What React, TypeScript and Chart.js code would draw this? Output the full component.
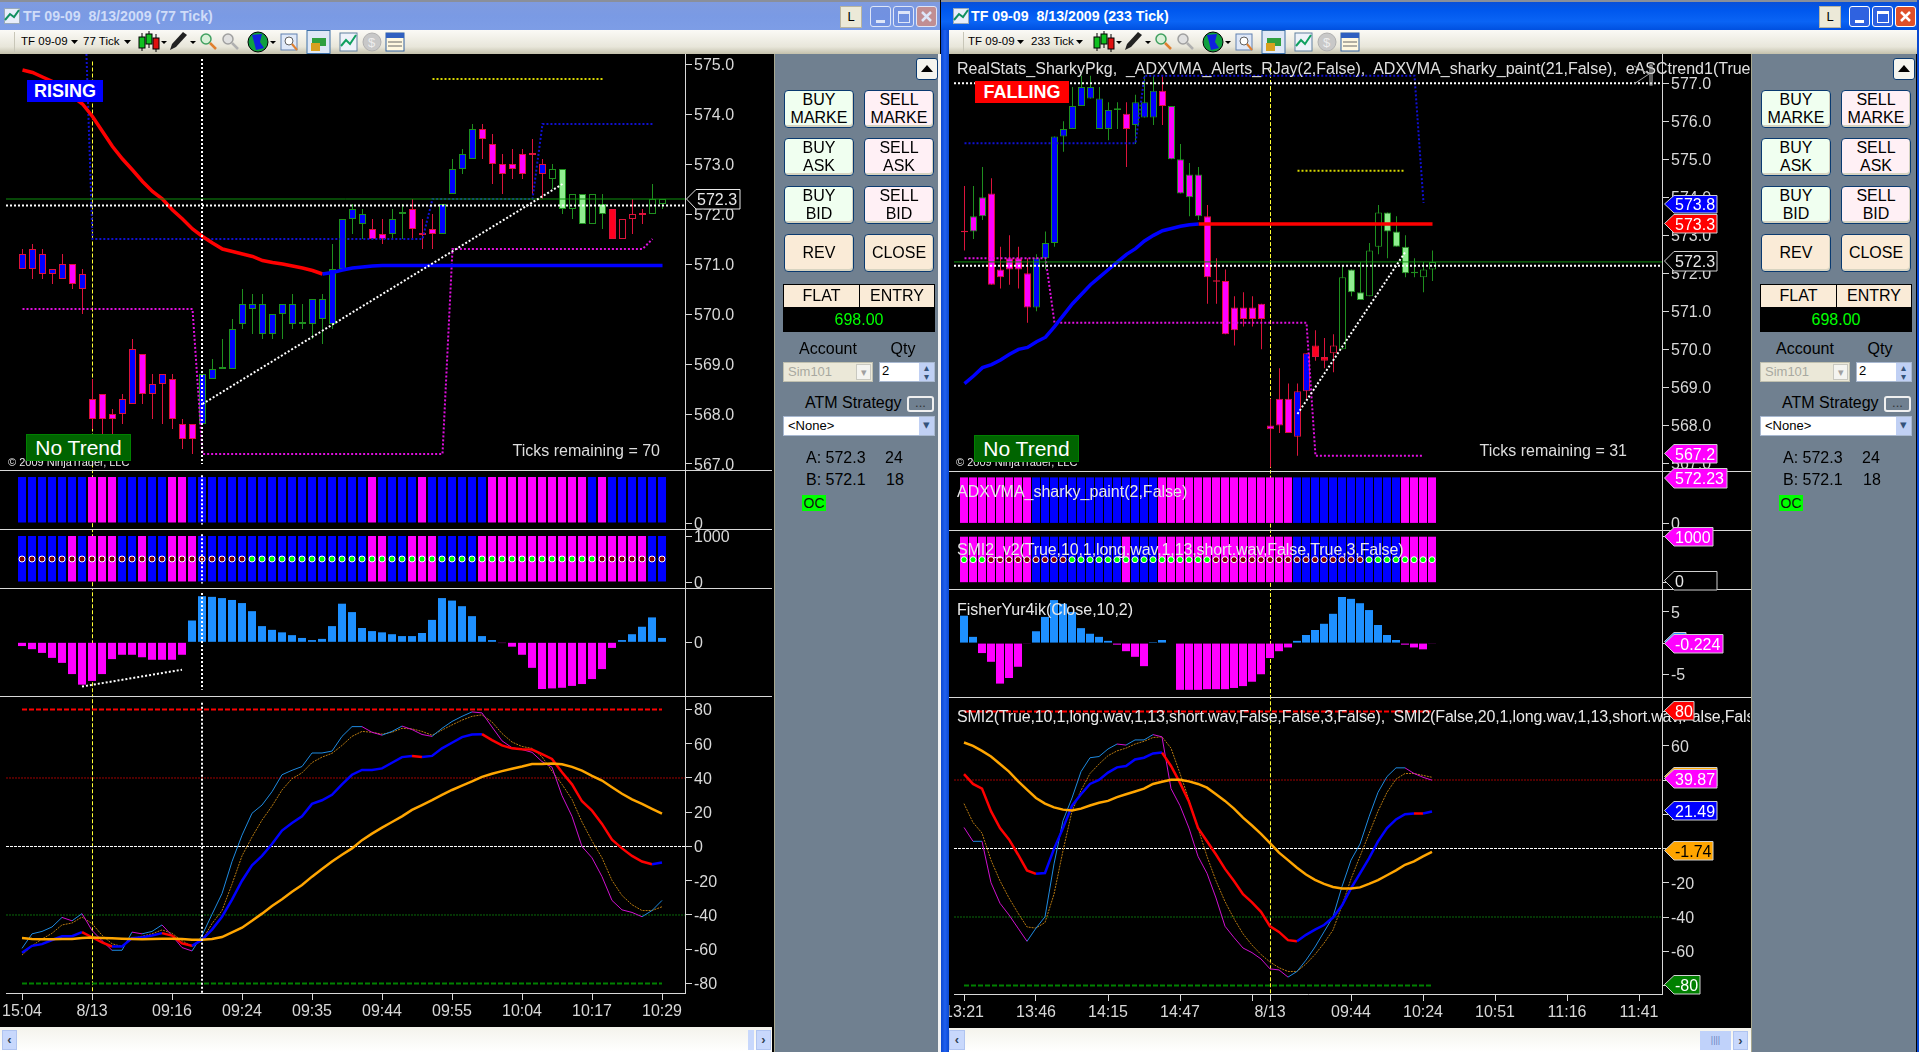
import React, { useEffect, useRef } from 'react';
import { Chart, registerables } from 'chart.js';
Chart.register(...registerables);

// ---------- left window (77 tick) data ----------
const leftXTicks = [0, 7, 15, 22, 29, 36, 43, 50, 57, 64];
const leftXLabels = ['15:04', '8/13', '09:16', '09:24', '09:35', '09:44', '09:55', '10:04', '10:17', '10:29'];
const leftOpen = [571.2,571.3,571.2,570.9,571.0,571.0,570.8,568.3,568.4,568.0,568.3,569.3,569.2,568.6,568.8,568.7,567.8,567.8,567.8,568.7,568.9,568.9,569.8,570.1,569.6,569.6,570.0,569.8,569.8,569.8,569.9,569.8,570.9,571.9,571.8,571.7,571.6,571.6,572.0,572.1,571.6,571.7,571.6,572.4,572.9,573.1,573.7,573.4,573.0,573.0,573.2,573.2,573.0,572.7,572.1,572.1,571.8,571.8,572.0,572.1,571.9,572.0,572.0,572.0,572.2];
const leftClose = [570.9,570.9,570.8,570.8,570.7,570.6,570.5,567.9,567.9,567.9,568.0,568.2,568.4,568.4,568.6,567.9,567.5,567.5,568.8,568.9,568.9,569.7,570.2,570.2,570.2,570.0,570.2,570.2,569.8,570.3,570.3,570.9,571.9,572.1,572.0,571.5,571.5,571.9,572.0,571.7,571.58,571.6,572.2,572.9,573.2,573.7,573.5,573.0,572.8,572.9,572.8,573.18,572.8,572.9,572.9,572.4,572.4,572.4,572.2,571.5,571.5,571.9,571.98,572.3,572.3];
const leftHigh = [571.3,571.4,571.3,570.9,571.2,571.0,570.9,568.7,568.4,568.1,568.4,569.5,569.2,568.8,568.8,568.8,567.9,567.8,568.8,569.1,569.5,569.9,570.5,570.4,570.4,570.0,570.2,570.4,570.2,570.3,570.4,571.4,571.9,572.2,572.1,571.9,571.9,572.1,572.2,572.3,571.9,572.0,572.2,573.1,573.3,573.8,573.8,573.6,573.2,573.3,573.3,573.5,573.1,573.0,572.9,572.4,572.4,572.4,572.4,572.1,571.9,572.3,572.1,572.6,572.3];
const leftLow = [570.9,570.7,570.7,570.6,570.7,570.5,570.0,567.7,567.5,567.5,567.8,568.2,568.2,567.9,567.8,567.7,567.3,567.2,567.8,568.7,568.9,568.9,569.7,569.6,569.5,569.5,569.5,569.7,569.7,569.5,569.4,569.7,570.9,571.6,571.5,571.5,571.4,571.5,571.5,571.5,571.3,571.3,571.6,572.4,572.8,573.1,573.1,572.6,572.4,572.7,572.7,572.4,572.3,572.5,572.0,571.9,571.8,571.8,571.7,571.5,571.5,571.6,571.8,572.0,572.1];
const leftPaint = 'bbbbbmbmmmbbmbbmmmbbbbbbbbbbbbbbbbbmmbbmbmbbbbmmmmmmbklklklrkkkkk';
const leftAdx = [574.88,574.83,574.74,574.65,574.5,574.35,574.2,573.95,573.65,573.35,573.1,572.88,572.65,572.45,572.3,572.08,571.9,571.7,571.55,571.42,571.3,571.25,571.2,571.15,571.07,571.03,571.0,570.96,570.92,570.87,570.8,570.83,570.88,570.92,570.94,570.96,570.97,570.97,570.97,570.97,570.97,570.97,570.97,570.97,570.97,570.97,570.97,570.97,570.97,570.97,570.97,570.97,570.97,570.97,570.97,570.97,570.97,570.97,570.97,570.97,570.97,570.97,570.97,570.97,570.97];
const leftResistance = [[6,577.6],[7,571.5],[40,571.5],[41,572.3],[51,572.3],[52,573.8],[63,573.8]];
const leftSupport = [[0,570.1],[17,570.1],[18,567.2],[42,567.2],[43,571.3],[62,571.3],[63,571.5]];
const leftTarget = [[41,574.7],[58,574.7]];
const leftTrend = [[18,568.2],[54,572.6]];
const leftHistTrend = [[6,-7.1],[16,-4.4]];
const leftLast = 572.3;
const leftMid = 572.17;
const leftStrip1 = 'bbbbbbbmmmbbbbbmmbbbbbbbbbbbbbbbbbbmbbbbmbbbbbbmmmmmmmmmmbmbbbbbb';
const leftStrip2 = 'bbbbbmbmmmbbmbbmmmbbbbbbbbbbbbbbbbbmmbbmmmbbbbmmmmmmmmmmmmmmmmmbb';
const leftDots = 'rrrrrrrrrrrrrrrrrrrrrrrgggggggggggggggggggggggggggggggggggrrrrrrr';
const leftHist = [-0.6,-1.1,-1.7,-2.5,-3.3,-5.1,-6.8,-6.2,-5.1,-2.7,-2.0,-2.0,-2.4,-2.8,-2.8,-2.8,-2.0,3.5,7.4,7.3,7.1,6.8,6.3,5.0,2.6,2.0,1.6,1.15,0.7,0.36,0.55,2.6,6.2,4.85,2.3,1.8,1.6,1.3,1.0,1.0,1.5,3.6,7.1,6.7,5.8,4.2,1.0,0.36,-0.12,-0.7,-2.0,-4.1,-7.5,-7.4,-7.3,-7.0,-6.7,-5.9,-4.3,-0.9,0.36,1.3,2.5,4.0,0.7];
const leftMain = [-62,-58,-57,-54.6,-52.4,-52.4,-50,-53,-56,-58.4,-58.4,-53.5,-53,-52,-50.6,-52,-56.6,-58,-54.4,-48.5,-41,-31,-20,-11,-5.5,1.5,9.3,13.7,17.6,24.9,27,30.2,36.3,41.9,44.7,44.7,45.6,48.9,52.2,52.9,52.2,52.9,57.3,60.6,63.9,65.4,65.6,62.1,59,57.3,56.8,56.6,54,51.1,43.4,36.3,26.4,20.9,13.2,4,-1.1,-5.5,-8.8,-10.4,-9.3];
const leftSignal = [-53.5,-54,-54.2,-54.2,-54,-54,-53.5,-53.2,-53.4,-53.6,-53.8,-54,-54.2,-54,-53.8,-53.8,-54,-54.4,-54.4,-54,-52.9,-50.2,-47.4,-43.4,-39.2,-34.8,-30.8,-26.4,-22.5,-17.6,-13.2,-8.8,-4.8,-1.1,3.7,7.5,11,14.3,17.6,21.4,24.2,27.1,30.2,33,35.5,38,40.7,42.5,44,45.4,46.7,48.2,48.2,48.5,48,46.5,44.3,41.2,38.5,34.6,30.8,27.5,24.9,22,19.2];
const leftFast = [-59.5,-51,-49.6,-47,-41.4,-43.4,-39.2,-49,-55,-60.6,-60.6,-50,-51,-49.6,-45.8,-52,-59,-61,-52,-39.6,-27.5,-8.8,6.6,19.4,24.2,32,41.9,44.5,46.7,54.6,54.6,55.7,64.3,70,70,66.7,65,67.2,70.3,68.3,65.4,64.3,69,73,76,78.6,78,69.8,61.7,57.7,56.6,55,49.6,46.3,29.7,17.6,0,-6.6,-17.6,-31.5,-37,-38.5,-41,-37.4,-31.5];
const leftSlow = [-63.4,-58,-54,-50.7,-45.8,-44.7,-41.2,-45,-51.8,-56.8,-58.4,-54,-52.4,-51,-48.7,-50.7,-55,-58.4,-55,-45,-37.4,-22,-5.5,5.5,15.4,23.6,33,39.6,43,49,52.2,54.4,59,64.3,67.2,66.7,65.6,66.7,69,68.7,67.2,65,68,71,73.8,76,76.9,72.7,66,61,58.4,57.3,52.4,44,36.3,27.5,14.3,3.3,-6.6,-19.8,-28.6,-34,-37.4,-37.4,-35.2];

// ---------- right window (233 tick) data ----------
const rightXTicks = [0, 8, 16, 24, 32, 34, 43, 51, 59, 67, 75];
const rightXLabels = ['13:21', '13:46', '14:15', '14:47', '', '8/13', '09:44', '10:24', '10:51', '11:16', '11:41'];
const rightOpen = [573.1,573.1,573.5,574.1,572.1,572.4,572.4,572.0,571.1,572.4,572.8,575.6,575.8,576.4,576.6,575.8,575.8,576.3,576.2,575.9,576.1,576.1,576.8,575.0,574.1,574.0,573.5,573.5,571.8,571.8,571.1,571.1,571.1,571.2,568.0,568.7,568.7,568.9,569.9,570.1,569.8,570.1,570.0,571.5,571.3,571.4,572.7,573.1,572.7,572.0,572.0,571.9,572.1];
const rightClose = [573.08,573.5,574.0,571.7,571.9,572.1,572.1,571.1,572.4,572.8,575.6,575.8,576.4,576.9,576.9,576.6,576.3,576.32,575.8,576.5,576.5,576.8,576.4,576.4,575.0,574.6,574.6,571.9,571.78,570.4,570.5,570.8,570.8,570.8,567.9,568.0,567.8,567.7,568.9,569.8,569.7,569.9,571.9,572.1,571.5,572.6,573.6,573.6,573.1,572.7,572.02,572.1,572.3];
const rightHigh = [574.3,574.3,574.8,574.5,572.7,573.0,572.7,572.4,572.5,573.1,575.6,576.0,576.9,577.2,577.2,576.9,576.5,576.5,576.5,576.7,577.2,577.2,577.2,576.4,575.4,574.9,574.8,573.8,572.4,572.1,571.4,571.5,571.4,571.2,568.7,569.5,569.1,569.1,569.9,570.5,570.3,570.4,572.2,572.1,572.3,572.8,573.8,573.6,573.5,573.0,572.4,572.3,572.6];
const rightLow = [572.6,572.9,573.4,571.7,571.6,571.7,571.6,570.7,571.0,572.1,572.7,575.2,575.8,576.4,576.6,575.8,575.5,575.8,574.8,575.4,576.1,575.9,575.9,575.0,574.1,573.5,573.4,571.2,571.2,570.4,570.1,570.6,570.6,570.0,566.9,567.8,567.8,567.2,568.7,569.7,569.5,569.4,570.0,571.4,571.3,571.4,572.5,572.4,572.7,571.9,571.9,571.5,571.8];
const rightPaint = 'mmmmmmmmbbbbbbbbbbmbbbmmmmmmmmmmmmmmmbbrrkkllkklllkkk';
const rightAdx = [569.1,569.3,569.52,569.6,569.72,569.87,570.0,570.05,570.2,570.32,570.6,570.9,571.2,571.45,571.7,571.9,572.1,572.3,572.5,572.65,572.85,573.0,573.12,573.18,573.24,573.28,573.3];
const rightAdxFlat = [[26,573.3],[52,573.3]];
const rightResistance = [[0,575.42],[19,575.42],[20,577.2],[50,577.2],[51,573.85]];
const rightSupport = [[0,572.4],[9,572.4],[10,570.7],[38,570.7],[39,567.2],[51,567.2]];
const rightTarget = [[37,574.7],[49,574.7]];
const rightTrend = [[37,568.3],[49,572.57]];
const rightLast = 572.3;
const rightMid = 572.2;
const rightHighLine = 577.0;
const rightStrip1 = 'mmmmmmmmbbbbbbbbbbbbbbmmmmmmmmmmmmmmmbbbbbbbbbbbbmmmm';
const rightStrip2 = 'mmmmmmmmbbbbbbbbbbmbbbmmmmmmmmmmmmmmmbbbbbbbbbbbbmmmm';
const rightDots = 'gggrrrrrrrrrggggggggggggggggrrrrrrrrrrrrrrrrrgggggggg';
const rightHist = [4.4,1.0,-1.6,-3.0,-6.5,-5.6,-3.8,-0.1,1.9,4.2,6.9,6.3,5.0,2.4,1.5,1.0,0.36,-0.25,-1.3,-2.2,-3.7,0.15,0.5,0,-7.5,-7.5,-7.5,-7.4,-7.4,-7.4,-7.2,-6.9,-6.2,-5.0,-2.4,-1.3,-0.7,0.36,1.3,2.1,3.1,4.7,7.4,7.1,6.4,5.3,2.9,1.3,0.5,-0.25,-0.7,-1.0,-0.1];
const rightMain = [43.4,37.7,35,21.8,11.9,5.3,-3.5,-12.8,-14.8,-14.3,-0.2,11.9,25,31.7,37.7,40,44.3,47.4,48.2,52,53,55.5,56,48.2,38.3,27.3,12,4.2,-3.5,-11.9,-19,-26.7,-31.5,-37,-45.4,-48.7,-53.5,-54.2,-50.4,-47.4,-44.7,-40.3,-33.3,-23.3,-14.5,-5.7,4.2,11.9,17,20,20.5,20.4,21.6];
const rightSignal = [61.9,59.9,57,53.7,49.3,44.9,39.4,34.4,29.5,26.2,24,22.7,22.2,23.3,25.1,26.7,27.8,30,31.7,33.3,35,37.7,39,40.1,40.1,39.2,37.7,35.5,31.7,27.8,23.3,18,13.4,8.6,3.1,-2.4,-6.8,-11.2,-15.2,-18.3,-20.7,-22.5,-23.3,-23.3,-22.7,-20.7,-18.5,-15.6,-12.8,-9.5,-7.5,-4.6,-2];
const rightFast = [12.3,4.2,4.2,-20,-32,-38.8,-46.5,-54.2,-46.5,-39.9,-9,16.3,29.5,44.9,53,53.7,58.1,61,60.4,63.4,63.4,66.5,65.2,35,25,11.9,-4.6,-14.5,-28.9,-45.4,-52,-58.1,-60.8,-64.5,-70.3,-70.9,-75.1,-71.8,-65.2,-57.5,-48.7,-39.9,-22.2,-6.8,2.6,18.5,32.8,42,47.1,47.1,43.8,41.6,39.9];
const rightSlow = [26.2,15.2,9,-6.8,-18.9,-28.9,-37.7,-45.8,-46.5,-43.2,-26.7,-1.3,21.8,33.9,43.8,49.3,54.2,57,58.6,61,62.6,64.8,65.2,58.6,43.8,28.4,11.9,-4.6,-18.9,-31,-41,-49.8,-56.4,-61.9,-66.3,-69.6,-71.8,-71.8,-67.4,-61.9,-55.3,-47.6,-33.3,-17.8,-4.6,8.6,21.8,32.8,40.5,43.8,43.8,42.7,41.6];

// ---------- axis tick values ----------
const leftPriceTicks = [575, 574, 573, 572, 571, 570, 569, 568, 567];
const rightPriceTicks = [577, 576, 575, 574, 573, 572, 571, 570, 569, 568, 567];
const oscTicks = [80, 60, 40, 20, 0, -20, -40, -60, -80];
const stripFull = 1000;
const dotLevel = 500;

const FONT = '"Liberation Sans", Arial, sans-serif';
const AXIS = '#d8d8d8';
const BLUE = '#0000ff', MAG = '#ff00ff', RED = '#ff0000', CRIMSON = '#dc143c', GRN = '#1f8f1f';
const PAINT: Record<string, string> = { b: BLUE, m: MAG, l: '#90ee90', r: '#ff0020', k: '#000000' };

type Geo = { left: number; width: number; padL: number; axisW: number; x0: number; step: number; n: number };
const LEFT: Geo = { left: 0, width: 772, padL: 6, axisW: 87, x0: 22, step: 10, n: 65 };
const RIGHT: Geo = { left: 949, width: 802, padL: 5, axisW: 89, x0: 964, step: 9, n: 53 };

const xLim = (g: Geo, shift: number) => {
  const a = g.left + g.padL, b = g.left + g.width - g.axisW;
  return [(a - g.x0 - shift) / g.step, (b - g.x0 - shift) / g.step];
};
const pts = (a: number[]) => a.map((y, x) => ({ x, y }));
const pairs = (a: number[][]) => a.map(([x, y]) => ({ x, y }));
const line = (data: any[], color: string, w: number, dash: number[] | undefined, order: number, extra: any = {}) => ({
  type: 'line', data, borderColor: color, borderWidth: w, borderDash: dash || [], pointRadius: 0, tension: 0, order, ...extra,
});
const sloped = (up: string, down: string) => ({
  borderColor: (c: any) => (c.p0.parsed.y > c.p1.parsed.y ? down : up),
});
const bar = (data: any[], width: number, bg: any, order: number, extra: any = {}) => ({
  type: 'bar', data, barThickness: width, backgroundColor: bg, borderWidth: 0, borderSkipped: false, inflateAmount: 0, grouped: false, order, ...extra,
});

function opts(g: Geo, shift: number, yMin: number, yMax: number, yTicks: number[], yFmt: (v: number) => string, xAxis?: { ticks: number[]; labels: string[]; h: number }) {
  const [xMin, xMax] = xLim(g, shift);
  return {
    responsive: false, animation: false, events: [],
    layout: { autoPadding: false, padding: { left: g.padL, right: 0, top: 0, bottom: 0 } },
    plugins: { legend: { display: false }, tooltip: { enabled: false } },
    scales: {
      x: {
        type: 'linear', min: xMin, max: xMax, offset: false, display: !!xAxis, position: 'bottom',
        grid: { offset: false, drawOnChartArea: false, drawTicks: true, tickLength: 7, color: AXIS },
        border: { color: AXIS, width: 1 },
        afterBuildTicks: (s: any) => { if (xAxis) s.ticks = xAxis.ticks.map((v) => ({ value: v })); },
        afterFit: (s: any) => { if (xAxis) s.height = xAxis.h; s.paddingLeft = 0; s.paddingRight = 0; },
        ticks: {
          autoSkip: false, maxRotation: 0, minRotation: 0, padding: 2, color: AXIS, font: { family: FONT, size: 16 },
          callback: (v: number) => { if (!xAxis) return ''; const i = xAxis.ticks.indexOf(v); return i >= 0 ? xAxis.labels[i] : ''; },
        },
      },
      y: {
        type: 'linear', position: 'right', min: yMin, max: yMax,
        grid: { drawOnChartArea: false, drawTicks: true, tickLength: 7, color: AXIS },
        border: { color: AXIS, width: 1 },
        afterBuildTicks: (s: any) => { s.ticks = yTicks.map((v) => ({ value: v })); },
        afterFit: (s: any) => { s.width = g.axisW; s.paddingTop = 0; s.paddingBottom = 0; },
        ticks: { autoSkip: false, padding: 2, labelOffset: 1.5, color: AXIS, font: { family: FONT, size: 16 }, callback: (v: number) => yFmt(v) },
      },
    },
  };
}

function candles(open: number[], close: number[], high: number[], low: number[], paint: string) {
  const dirColor = open.map((o, i) => (close[i] >= o ? GRN : CRIMSON));
  const wick = bar(high.map((h, i) => ({ x: i, y: [low[i], h] })), 1, dirColor, 30);
  const body = bar(
    open.map((o, i) => {
      const hi = Math.max(o, close[i]), lo = Math.min(o, close[i]);
      return { x: i, y: [lo, Math.max(hi, lo + 0.04)] };
    }),
    7,
    open.map((o, i) => (Math.abs(o - close[i]) < 0.04 ? dirColor[i] : PAINT[paint[i]])),
    29,
    { borderWidth: 1, borderColor: dirColor },
  );
  return [wick, body];
}

type Cfg = { top: number; height: number; g: Geo; datasets: any[]; options: any };

function priceCfg(side: 'L' | 'R'): Cfg {
  const L = side === 'L';
  const g = L ? LEFT : RIGHT;
  const [a, b] = xLim(g, 0.5);
  const span = (y: number) => [{ x: a, y }, { x: b, y }];
  const yMin = L ? 566.88 : 566.8, yMax = L ? 575.2 : 577.77;
  const ds: any[] = L
    ? [
        ...candles(leftOpen, leftClose, leftHigh, leftLow, leftPaint),
        line(pairs(leftResistance), '#1010d0', 2, [2, 2], 12),
        line(pairs(leftSupport), '#e010e0', 2, [2, 2], 12),
        line(pairs(leftTarget), '#d8d800', 2, [2, 2], 12),
        line(pts(leftAdx), BLUE, 3.5, undefined, 10, { segment: sloped(BLUE, RED) }),
        line(span(leftLast), '#0f8f0f', 1, undefined, 9),
        line(span(leftMid), '#ffffff', 2, [2, 2], 8),
        line(pairs(leftTrend), '#ffffff', 2, [2, 2], 7),
        line([{ x: 7, y: 575.05 }, { x: 7, y: yMin }], '#ffff33', 1, [4, 2], 40),
        line([{ x: 17.95, y: 575.1 }, { x: 17.95, y: 567.0 }], '#ffffff', 2, [2, 2], 5),
      ]
    : [
        ...candles(rightOpen, rightClose, rightHigh, rightLow, rightPaint),
        line(pairs(rightResistance), '#1010d0', 2, [2, 2], 12),
        line(pairs(rightSupport), '#e010e0', 2, [2, 2], 12),
        line(pairs(rightTarget), '#d8d800', 2, [2, 2], 12),
        line(pts(rightAdx), BLUE, 3.5, undefined, 10),
        line(pairs(rightAdxFlat), RED, 3.5, undefined, 10),
        line(span(rightLast), '#0f8f0f', 1, undefined, 9),
        line(span(rightMid), '#ffffff', 2, [2, 2], 8),
        line(span(rightHighLine), '#ffffff', 2, [2, 2], 8),
        line(pairs(rightTrend), '#ffffff', 2, [2, 2], 7),
        line([{ x: 34, y: 577.4 }, { x: 34, y: yMin }], '#ffff33', 1, [4, 2], 40),
      ];
  return {
    top: 54, height: L ? 416 : 417, g, datasets: ds,
    options: opts(g, 0.5, yMin, yMax, L ? leftPriceTicks : rightPriceTicks, (v) => v.toFixed(1)),
  };
}

const yellowX = (L: boolean) => (L ? 7.05 : 34.055);

function stripCfg(side: 'L' | 'R', which: 1 | 2): Cfg {
  const L = side === 'L';
  const g = L ? LEFT : RIGHT;
  const code = L ? (which === 1 ? leftStrip1 : leftStrip2) : which === 1 ? rightStrip1 : rightStrip2;
  const ds: any[] = [bar([...code].map((_, x) => ({ x, y: stripFull })), 8, [...code].map((c) => PAINT[c]), 20)];
  if (which === 2) {
    const d = L ? leftDots : rightDots;
    ds.push(line([...d].map((_, x) => ({ x, y: dotLevel })), '#fff', 0, undefined, 10, {
      showLine: false, pointRadius: 3, pointBorderWidth: 1, pointBorderColor: '#ffffff',
      pointBackgroundColor: [...d].map((c) => (c === 'g' ? '#00ff00' : '#800000')),
    }));
  }
  const y0 = L ? 523 : 523.4;
  if (L) ds.push(line([{ x: 18, y: 1040 }, { x: 18, y: -30 }], '#ffffff', 2, [2, 2], 5));
  const vx = yellowX(L);
  ds.push(line([{ x: vx, y: 1300 }, { x: vx, y: -300 }], '#ffff33', 1, [4, 2], 40));
  const top = L ? (which === 1 ? 470 : 529) : which === 1 ? 471 : 530;
  const zero = which === 1 ? y0 : L ? 582 : 582.7;
  const k = 0.046;
  return {
    top, height: 59, g, datasets: ds,
    options: opts(g, 0, -(top + 59 - zero) / k, (zero - top) / k, which === 1 ? [0] : [1000, 0], (v) => String(v)),
  };
}

function histCfg(side: 'L' | 'R'): Cfg {
  const L = side === 'L';
  const g = L ? LEFT : RIGHT;
  const v = L ? leftHist : rightHist;
  const ds: any[] = [bar(pts(v), 8, v.map((y) => (y >= 0 ? '#1e90ff' : MAG)), 20)];
  if (L) {
    ds.push(line(pairs(leftHistTrend), '#ffffff', 2, [2, 2], 7));
    ds.push(line([{ x: 18, y: 7.9 }, { x: 18, y: -7.6 }], '#ffffff', 2, [2, 2], 5));
  }
  const vx = yellowX(L);
  ds.push(line([{ x: vx, y: 9 }, { x: vx, y: -9 }], '#ffff33', 1, [4, 2], 40));
  return {
    top: L ? 588 : 589, height: 108, g, datasets: ds,
    options: opts(g, 0, L ? -8.62 : -8.65, L ? 8.72 : 8.68, L ? [0] : [5, 0, -5], (x) => String(x)),
  };
}

function oscCfg(side: 'L' | 'R'): Cfg {
  const L = side === 'L';
  const g = L ? LEFT : RIGHT;
  const [a, b] = xLim(g, 0);
  const span = (y: number) => [{ x: a, y }, { x: b, y }];
  const last = g.n - 1;
  const vx = yellowX(L);
  const ds: any[] = [
    line([{ x: 0, y: 80 }, { x: last, y: 80 }], RED, 2, [5, 2], 20),
    line([{ x: 0, y: -80 }, { x: last, y: -80 }], '#008000', 2, [5, 2], 20),
    line(span(40), '#a00000', 1, [2, 1], 21),
    line(span(-40), '#0a6a0a', 1, [2, 1], 21),
    line(span(0), '#ffffff', 1, [3, 1], 21),
    line(pts(L ? leftSlow : rightSlow), '#b87a10', 1, [2, 1], 15),
    line(pts(L ? leftFast : rightFast), '#1e8ae0', 1, undefined, 14, { segment: sloped('#1e8ae0', '#d010d0') }),
    line(pts(L ? leftMain : rightMain), BLUE, 2.5, undefined, 12, { segment: sloped(BLUE, RED) }),
    line(pts(L ? leftSignal : rightSignal), '#ffa500', 2.5, undefined, 11),
    line([{ x: vx, y: 100 }, { x: vx, y: -100 }], '#ffff33', 1, [4, 2], 40),
  ];
  if (L) ds.push(line([{ x: 18, y: 84 }, { x: 18, y: -86 }], '#ffffff', 2, [2, 2], 5));
  return {
    top: L ? 696 : 697, height: 331, g, datasets: ds,
    options: opts(g, 0, L ? -85.55 : -84.96, L ? 87.88 : 88.47, oscTicks, (v) => String(v), {
      ticks: L ? leftXTicks : rightXTicks, labels: L ? leftXLabels : rightXLabels, h: 34,
    }),
  };
}

function Panel({ make }: { make: () => Cfg }) {
  const ref = useRef<HTMLCanvasElement>(null);
  const cfg = make();
  useEffect(() => {
    const c = make();
    const chart = new Chart(ref.current as any, { type: 'bar', data: { datasets: c.datasets }, options: c.options } as any);
    return () => chart.destroy();
  }, []);
  return (
    <canvas ref={ref} width={cfg.g.width} height={cfg.height}
      style={{ position: 'absolute', left: cfg.g.left, top: cfg.top, width: cfg.g.width, height: cfg.height, display: 'block' }} />
  );
}

const abs = (l: number, t: number, w: number, h: number, extra: any = {}) => ({ position: 'absolute', left: l, top: t, width: w, height: h, boxSizing: 'border-box', ...extra }) as React.CSSProperties;

function Txt({ x, y, s, size = 16, color = '#000', weight = 'normal', anchor = 'l', spacing = 0 }: any) {
  const tf = anchor === 'c' ? 'translate(-50%,-50%)' : anchor === 'r' ? 'translate(-100%,-50%)' : 'translateY(-50%)';
  return (
    <div style={{ position: 'absolute', left: x, top: y, transform: tf, font: `${weight} ${size}px ${FONT}`, color, whiteSpace: 'pre', lineHeight: 1, letterSpacing: spacing }}>{s}</div>
  );
}

function Flag({ top, bottom, right, x = 1664, text, fill, color = '#fff', stroke = '#d0d0d0' }: any) {
  const w = right - x, h = bottom - top;
  return (
    <svg width={w + 1} height={h + 1} style={{ position: 'absolute', left: x, top }}>
      <polygon points={`0.5,${h / 2} 10,0.5 ${w},0.5 ${w},${h} 10,${h}`} fill={fill} stroke={stroke} strokeWidth={1} />
      <text x={11} y={h / 2 + 6} fill={color} style={{ font: `16px ${FONT}` }}>{text}</text>
    </svg>
  );
}

function Btn({ x, y, w = 70, h = 38, bg, lines }: any) {
  return (
    <div style={abs(x, y, w, h, { background: bg, border: '1px solid #0a3a70', borderRadius: 4, boxShadow: 'inset -1px -2px 0 #d6d3c0', textAlign: 'center', font: `16px/18px ${FONT}`, color: '#000', paddingTop: lines.length === 1 ? 9 : 0, overflow: 'hidden' })}>
      {lines.map((l: string) => <div key={l}>{l}</div>)}
    </div>
  );
}

function SidePanel({ dx, width }: { dx: number; width: number }) {
  const x = (v: number) => v + dx;
  return (
    <div>
      <div style={abs(x(774), 54, width, 998, { background: '#708090', borderLeft: '1px solid #a8a890' })} />
      <div style={abs(x(916), 58, 22, 22, { background: '#f4f4ee', border: '1px solid #0a3a70', borderRadius: 3 })}>
        <svg width="20" height="20"><polygon points="4,13 10,6 16,13" fill="#000" /></svg>
      </div>
      <Btn x={x(784)} y={90} bg="#f0fff0" lines={['BUY', 'MARKE']} />
      <Btn x={x(864)} y={90} bg="#fff0f5" lines={['SELL', 'MARKE']} />
      <Btn x={x(784)} y={138} bg="#f0fff0" lines={['BUY', 'ASK']} />
      <Btn x={x(864)} y={138} bg="#fff0f5" lines={['SELL', 'ASK']} />
      <Btn x={x(784)} y={186} bg="#f0fff0" lines={['BUY', 'BID']} />
      <Btn x={x(864)} y={186} bg="#fff0f5" lines={['SELL', 'BID']} />
      <Btn x={x(784)} y={234} bg="#faebd7" lines={['REV']} />
      <Btn x={x(864)} y={234} bg="#faebd7" lines={['CLOSE']} />
      <div style={abs(x(783), 284, 152, 48, { background: '#000', border: '1px solid #000' })} />
      <div style={abs(x(784), 285, 75, 22, { background: '#faebd7', textAlign: 'center', font: `16px/22px ${FONT}` })}>FLAT</div>
      <div style={abs(x(860), 285, 74, 22, { background: '#faebd7', textAlign: 'center', font: `16px/22px ${FONT}` })}>ENTRY</div>
      <Txt x={x(859)} y={320} s="698.00" color="#00ff00" anchor="c" />
      <Txt x={x(828)} y={349} s="Account" anchor="c" />
      <Txt x={x(903)} y={349} s="Qty" anchor="c" />
      <div style={abs(x(783), 362, 90, 20, { background: '#ebe8d8', border: '1px solid #c0c0b0', font: `13px/18px ${FONT}`, color: '#a8a8a0', paddingLeft: 4 })}>Sim101</div>
      <div style={abs(x(856), 364, 15, 16, { background: '#f4f4f0', border: '1px solid #c8c8c0', font: `11px/14px ${FONT}`, color: '#a0a0a0', textAlign: 'center' })}>▾</div>
      <div style={abs(x(879), 362, 56, 20, { background: '#fff', border: '1px solid #a8b8d0', font: `13px/16px ${FONT}`, paddingLeft: 2 })}>2</div>
      <div style={abs(x(919), 363, 15, 18, { background: '#c0d0f4', font: `10px/9px ${FONT}`, color: '#34527a', textAlign: 'center' })}>▴<br />▾</div>
      <Txt x={x(805)} y={403} s="ATM Strategy" />
      <div style={abs(x(907), 396, 27, 16, { background: '#708090', border: '2px solid #f0f0f0', borderRadius: 3, font: `13px/10px ${FONT}`, textAlign: 'center', color: '#333' })}>...</div>
      <div style={abs(x(783), 416, 152, 20, { background: '#fff', border: '1px solid #a8b8d0', font: `13px/18px ${FONT}`, paddingLeft: 4 })}>{'<None>'}</div>
      <div style={abs(x(919), 417, 15, 18, { background: '#c0d0f4', font: `13px/16px ${FONT}`, color: '#34527a', textAlign: 'center' })}>▾</div>
      <Txt x={x(806)} y={458} s="A: 572.3" />
      <Txt x={x(885)} y={458} s="24" />
      <Txt x={x(806)} y={480} s="B: 572.1" />
      <Txt x={x(886)} y={480} s="18" />
      <div style={abs(x(802), 495, 24, 16, { background: '#00ff00', font: `14px/16px ${FONT}`, textAlign: 'center', color: '#111' })}>OC</div>
    </div>
  );
}

function Icons({ dx }: { dx: number }) {
  return (
    <svg width="280" height="24" style={{ position: 'absolute', left: 136 + dx, top: 30 }}>
      <g>
        <line x1="6" y1="3" x2="6" y2="21" stroke="#000" /><rect x="3" y="7" width="6" height="11" fill="#10c020" stroke="#000" />
        <line x1="13" y1="1" x2="13" y2="18" stroke="#000" /><rect x="10" y="4" width="6" height="10" fill="#10c020" stroke="#000" />
        <line x1="20" y1="4" x2="20" y2="22" stroke="#000" /><rect x="17" y="8" width="6" height="11" fill="#e01010" stroke="#000" />
        <polygon points="25,11 31,11 28,14" fill="#000" />
      </g>
      <polygon points="34,20 36,14 47,2 51,5 40,17" fill="#222" />
      <polygon points="54,11 60,11 57,14" fill="#000" />
      <circle cx="70" cy="9" r="5" fill="#d8f0d8" stroke="#40a060" strokeWidth="1.5" /><line x1="74" y1="13" x2="80" y2="19" stroke="#e08030" strokeWidth="2.5" />
      <circle cx="92" cy="9" r="5" fill="#e0e0e0" stroke="#a0a0a0" strokeWidth="1.5" /><line x1="96" y1="13" x2="102" y2="19" stroke="#b0b0b0" strokeWidth="2.5" />
      <circle cx="122" cy="12" r="10" fill="#10a040" stroke="#000" /><path d="M116 5 L126 4 L124 12 L128 18 L120 20 L118 12 Z" fill="#1020e0" />
      <polygon points="134,11 140,11 137,14" fill="#000" />
      <rect x="145" y="4" width="16" height="16" fill="#dfe8f8" stroke="#6080b0" /><circle cx="153" cy="11" r="4" fill="#fff" stroke="#606060" /><line x1="156" y1="14" x2="161" y2="20" stroke="#e08030" strokeWidth="2" />
      <rect x="171" y="0.5" width="23" height="23" fill="#dfe8f6" stroke="#3a6ea5" />
      <rect x="176" y="8" width="14" height="8" fill="#30a040" /><rect x="175" y="13" width="9" height="8" fill="#d8a020" />
      <rect x="204" y="3" width="17" height="18" fill="#eef2fa" stroke="#6080a0" /><polyline points="205,16 210,10 214,14 220,5" stroke="#10a060" strokeWidth="2" fill="none" />
      <circle cx="236" cy="12" r="9" fill="#c8c8c8" stroke="#b0b0b0" />
      <text x="232" y="17" style={{ font: `13px ${FONT}` }} fill="#eee">$</text>
      <rect x="250" y="3" width="18" height="18" fill="#fff8e0" stroke="#3060a0" /><rect x="250" y="3" width="18" height="5" fill="#3060c0" />
      <line x1="252" y1="12" x2="266" y2="12" stroke="#666" /><line x1="252" y1="16" x2="266" y2="16" stroke="#666" />
    </svg>
  );
}

function TitleBar({ x, w, active, text }: any) {
  const bg = active
    ? 'linear-gradient(#0a50d8 0%, #0058ee 30%, #0a64f5 70%, #0050e0 100%)'
    : 'linear-gradient(#7f9be0 0%, #7a9ae4 50%, #7d9de6 100%)';
  const btnX = x + w - 99;
  const wb = (l: number, bgc: string, inner: any) => (
    <div style={abs(l, 6, 21, 21, { background: bgc, border: '1px solid #fff', borderRadius: 3, opacity: active ? 1 : 0.75 })}>{inner}</div>
  );
  const bb = active ? '#2f62e0' : '#6f8fe0';
  return (
    <div>
      <div style={abs(x, 0, w, 30, { background: bg, borderTop: '2px solid #8a8f9a' })} />
      <svg width="16" height="16" style={{ position: 'absolute', left: x + 4 + (active ? 8 : 0), top: 8 }}>
        <rect x="0.5" y="0.5" width="15" height="15" fill="#e8eefa" stroke="#9ab" /><polyline points="1,12 6,6 10,9 15,2" stroke="#109060" strokeWidth="2" fill="none" />
      </svg>
      <Txt x={x + (active ? 30 : 23)} y={16} s={text} size={14.2} weight="bold" color={active ? '#ffffff' : '#cfdcf8'} />
      <div style={abs(btnX - 1, 6, 22, 22, { background: '#ece9d8', border: '1px solid #b8b4a0', textAlign: 'center', font: `13px/20px ${FONT}` })}>L</div>
      {wb(btnX + 29, bb, <div style={abs(5, 13, 9, 3, { background: '#fff' })} />)}
      {wb(btnX + 52, bb, <div style={abs(4, 4, 12, 12, { border: '1.5px solid #fff', borderTop: '3px solid #fff' })} />)}
      {wb(btnX + 75, active ? '#e0502a' : '#d98a78', <svg width="19" height="19"><path d="M5 5 L14 14 M14 5 L5 14" stroke="#fff" strokeWidth="2.5" /></svg>)}
    </div>
  );
}

function Toolbar({ x, w, gripX, symX, symArrow, symLabel, tickLabel, tickX, tickArrow }: any) {
  return (
    <div>
      <div style={abs(x, 30, w, 24, { background: 'linear-gradient(#fbfaf6,#e8e6da 70%,#c4c1ac)' })} />
      <div style={abs(gripX, 32, 1, 20, { background: '#c8c6b8' })} />
      <Txt x={symX} y={42} s={symLabel} size={11.5} />
      <svg width="8" height="5" style={{ position: 'absolute', left: symArrow, top: 40 }}><polygon points="0,0 7,0 3.5,4" fill="#000" /></svg>
      <Txt x={tickX} y={42} s={tickLabel} size={11.5} />
      <svg width="8" height="5" style={{ position: 'absolute', left: tickArrow, top: 40 }}><polygon points="0,0 7,0 3.5,4" fill="#000" /></svg>
    </div>
  );
}

function Win({ side }: { side: 'L' | 'R' }) {
  const L = side === 'L';
  const w = L ? LEFT : RIGHT;
  const dLines = L ? [470, 529, 588, 696] : [471, 530, 589, 697];
  return (
    <div>
      <div style={abs(w.left, 54, w.width, 975, { background: '#000' })} />
      <Panel make={() => priceCfg(side)} />
      <Panel make={() => stripCfg(side, 1)} />
      <Panel make={() => stripCfg(side, 2)} />
      <Panel make={() => histCfg(side)} />
      <Panel make={() => oscCfg(side)} />
      {dLines.map((y) => <div key={y} style={abs(w.left, y, w.width, 1, { background: '#d8d8d8' })} />)}
    </div>
  );
}

export default function App() {
  return (
    <div style={{ position: 'fixed', left: 0, top: 0, width: 1919, height: 1052, overflow: 'hidden', background: '#000', fontFamily: FONT }}>
      {/* left window */}
      <TitleBar x={0} w={940} active={false} text={'TF 09-09  8/13/2009 (77 Tick)'} />
      <Toolbar x={0} w={940} gripX={14} symX={21} symArrow={71} symLabel="TF 09-09" tickLabel="77 Tick" tickX={83} tickArrow={124} />
      <Icons dx={0} />
      <Win side="L" />
      <Txt x={8} y={462} s="© 2009 NinjaTrader, LLC" size={11} color="#e8e8e8" />
      <div style={abs(27, 80, 76, 22, { background: BLUE, color: '#fff', font: `bold 18px/22px ${FONT}`, textAlign: 'center' })}>RISING</div>
      <div style={abs(26, 434, 105, 27, { background: '#006400', border: '1px solid #008000', color: '#fff', font: `21px/25px ${FONT}`, textAlign: 'center' })}>No Trend</div>
      <Txt x={660} y={451} s="Ticks remaining = 70" color="#dddddd" anchor="r" />
      <Flag x={686} right={740} top={189} bottom={209} text="572.3" fill="#000" stroke="#e8e8e8" color="#e8e8e8" />
      <div style={abs(0, 1027, 772, 25, { background: 'linear-gradient(#f4f3ec,#fff)' })} />
      <div style={abs(2, 1030, 15, 20, { background: '#c8d8fc', border: '1px solid #b0c4f0', color: '#345', textAlign: 'center', font: `bold 13px/18px ${FONT}` })}>‹</div>
      <div style={abs(748, 1030, 6, 20, { background: '#c8d8fc' })} />
      <div style={abs(756, 1030, 15, 20, { background: '#c8d8fc', border: '1px solid #b0c4f0', color: '#345', textAlign: 'center', font: `bold 13px/18px ${FONT}` })}>›</div>
      <SidePanel dx={0} width={165} />
      <div style={abs(938, 54, 3, 998, { background: '#f2f2f2' })} />

      {/* right window */}
      <div style={abs(941, 0, 8, 1052, { background: 'linear-gradient(90deg,#0a48d0,#2060f0,#0a48d0)' })} />
      <TitleBar x={941} w={978} active={true} text={'TF 09-09  8/13/2009 (233 Tick)'} />
      <Toolbar x={949} w={970} gripX={963} symX={968} symArrow={1017} symLabel="TF 09-09" tickLabel="233 Tick" tickX={1031} tickArrow={1076} />
      <Icons dx={955} />
      <Win side="R" />
      <div style={abs(949, 58, 801, 22, { overflow: 'hidden' })}>
        <Txt x={8} y={11} s={'RealStats_SharkyPkg,  _ADXVMA_Alerts_RJay(2,False),  ADXVMA_sharky_paint(21,False),  eASCtrend1(True,7'} color="#e0e0e0" />
      </div>
      <svg width="20" height="22" style={{ position: 'absolute', left: 1633, top: 64 }}>
        <polyline points="1,2 16,10 1,20" fill="none" stroke="#a0a0a0" strokeWidth="1" /><rect x="17" y="1" width="2" height="20" fill="none" stroke="#bbb" />
      </svg>
      <Txt x={957} y={492} s="ADXVMA_sharky_paint(2,False)" color="#e8e8e8" />
      <Txt x={957} y={550} s="SMI2_v2(True,10,1,long.wav,1,13,short.wav,False,True,3,False)" color="#e8e8e8" spacing={-0.1} />
      <Txt x={957} y={610} s="FisherYur4ik(Close,10,2)" color="#e8e8e8" />
      <div style={abs(949, 706, 801, 22, { overflow: 'hidden' })}>
        <Txt x={8} y={11} s={'SMI2(True,10,1,long.wav,1,13,short.wav,False,False,3,False),  SMI2(False,20,1,long.wav,1,13,short.wav,False,False'} color="#e8e8e8" spacing={-0.17} />
      </div>
      <Txt x={956} y={462} s="© 2009 NinjaTrader, LLC" size={11} color="#e8e8e8" />
      <div style={abs(975, 81, 94, 22, { background: RED, color: '#fff', font: `bold 18px/22px ${FONT}`, textAlign: 'center' })}>FALLING</div>
      <div style={abs(974, 435, 105, 27, { background: '#006400', border: '1px solid #008000', color: '#fff', font: `21px/25px ${FONT}`, textAlign: 'center' })}>No Trend</div>
      <Txt x={1627} y={451} s="Ticks remaining = 31" color="#dddddd" anchor="r" />
      <Flag top={195} bottom={213} right={1717} text="573.8" fill={BLUE} />
      <Flag top={214} bottom={233} right={1717} text="573.3" fill={RED} />
      <Flag top={251} bottom={271} right={1717} text="572.3" fill="#000" color="#e8e8e8" />
      <Flag top={444} bottom={463} right={1717} text="567.2" fill={MAG} />
      <Flag top={468} bottom={488} right={1727} text="572.23" fill={MAG} />
      <Flag top={527} bottom={546} right={1713} text="1000" fill={MAG} />
      <Flag top={571} bottom={590} right={1717} text="0" fill="#000" color="#e8e8e8" />
      <Flag top={632} bottom={651} right={1686} text="" fill="#1e90ff" />
      <Flag top={634} bottom={653} right={1723} text="-0.224" fill={MAG} />
      <Flag top={701} bottom={720} right={1694} text="80" fill={RED} />
      <Flag top={767} bottom={786} right={1717} text="" fill="#ffa500" />
      <Flag top={769} bottom={788} right={1717} text="39.87" fill={MAG} />
      <Flag top={801} bottom={820} right={1717} text="21.49" fill={BLUE} />
      <Flag top={841} bottom={860} right={1713} text="-1.74" fill="#ffa500" color="#000" />
      <Flag top={975} bottom={994} right={1700} text="-80" fill="#008000" />
      <div style={abs(949, 1028, 802, 24, { background: 'linear-gradient(#f4f3ec,#fff)' })} />
      <div style={abs(949, 1030, 16, 20, { background: '#c8d8fc', border: '1px solid #b0c4f0', color: '#345', textAlign: 'center', font: `bold 13px/18px ${FONT}` })}>‹</div>
      <div style={abs(1700, 1031, 31, 19, { background: '#c0d2fa', color: '#6a84c0', textAlign: 'center', font: `9px/18px ${FONT}` })}>||||</div>
      <div style={abs(1733, 1031, 15, 19, { background: '#c8d8fc', border: '1px solid #b0c4f0', color: '#345', textAlign: 'center', font: `bold 13px/17px ${FONT}` })}>›</div>
      <SidePanel dx={977} width={165} />
      <div style={abs(1917, 0, 2, 1052, { background: '#0a48d0' })} />
    </div>
  );
}
